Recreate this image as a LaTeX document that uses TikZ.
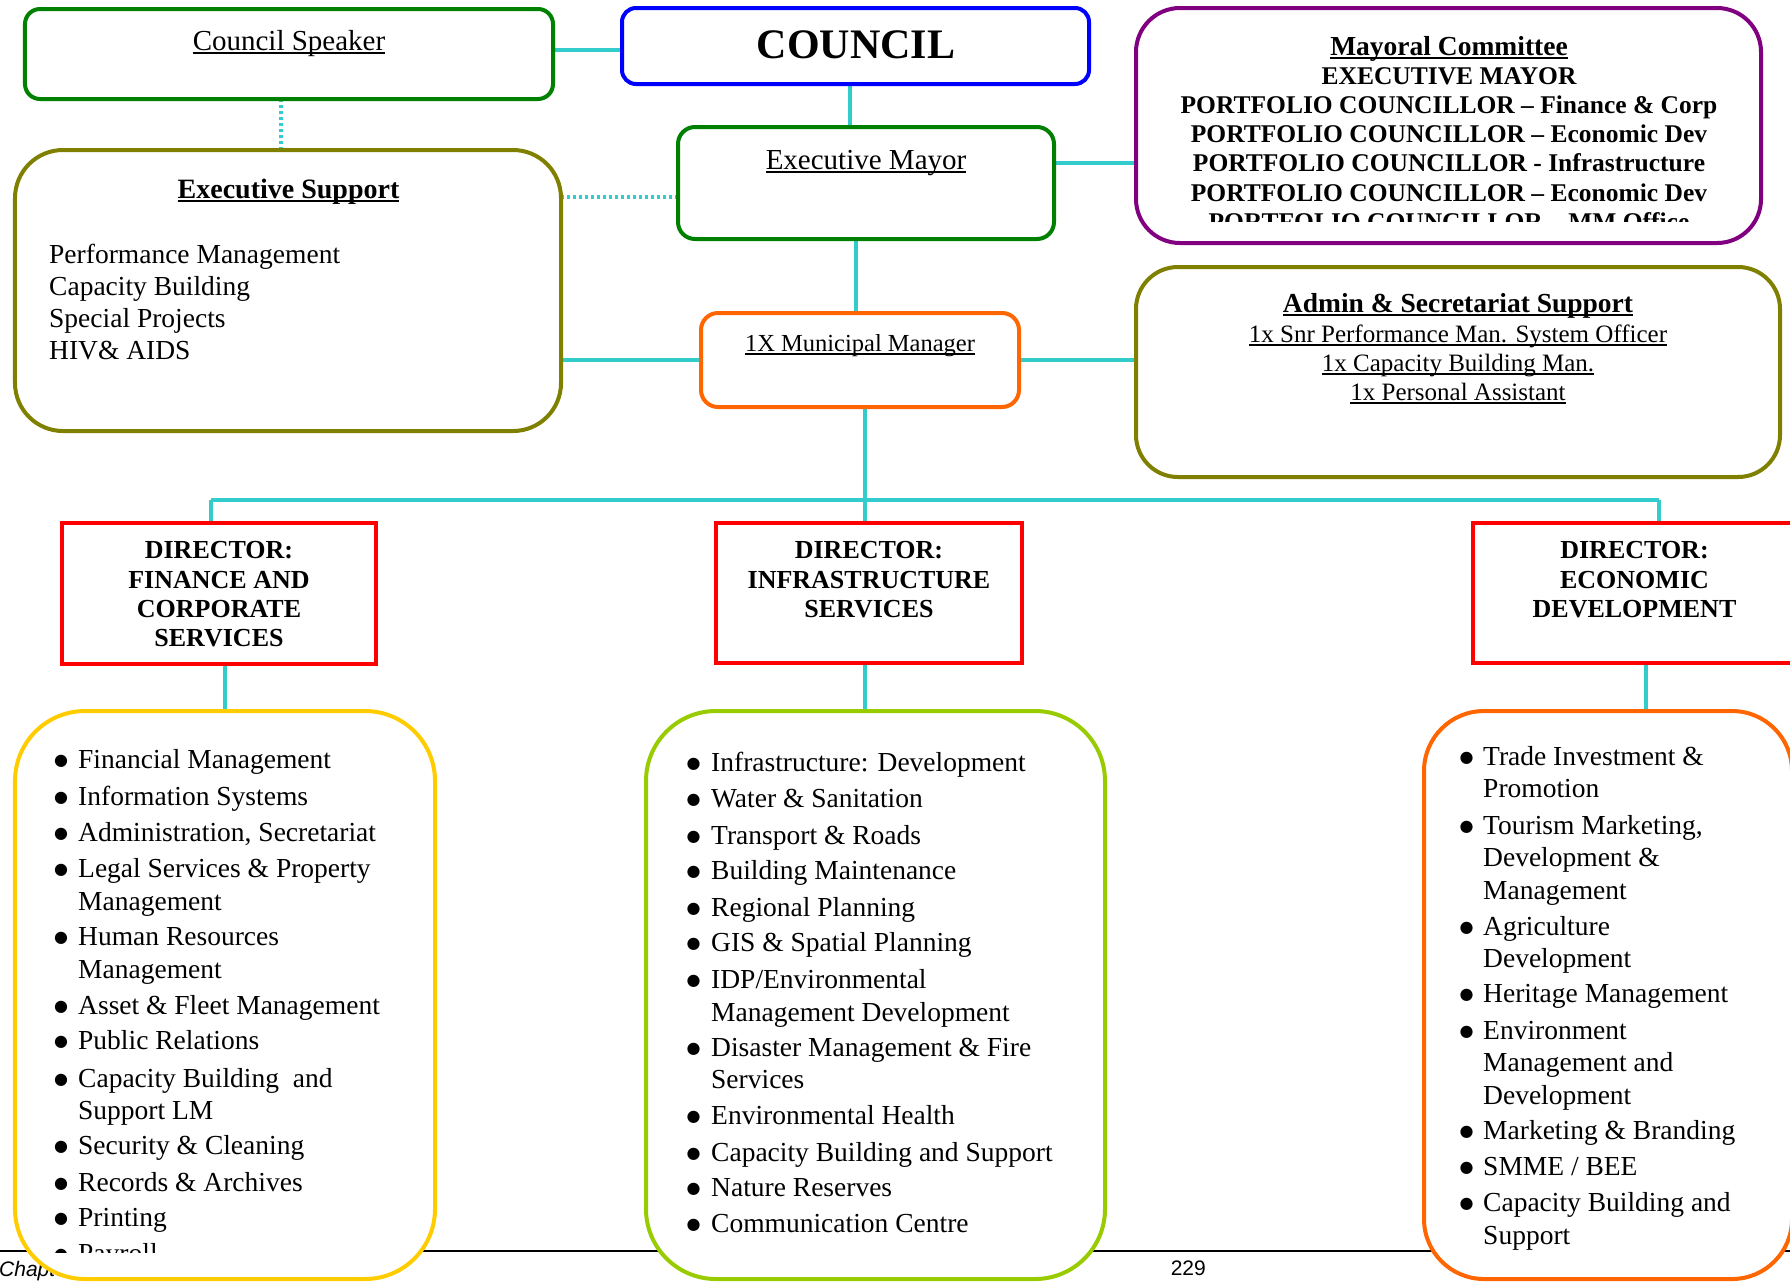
\documentclass[tikz,border=0pt]{standalone}
\usepackage{fontspec}
\setmainfont{Liberation Serif}
\newfontfamily\footfont{Liberation Sans}
\newfontfamily\bulfont{DejaVu Sans}
\newsavebox{\myulbox}
\newcommand{\myul}[1]{\sbox{\myulbox}{#1}\rlap{\rule[-3.5bp]{\wd\myulbox}{1.6bp}}\usebox{\myulbox}}
\definecolor{cyanl}{RGB}{51,204,204}
\definecolor{grn}{RGB}{0,128,0}
\definecolor{blu}{RGB}{0,0,255}
\definecolor{olv}{RGB}{128,128,0}
\definecolor{pur}{RGB}{128,0,128}
\definecolor{orng}{RGB}{255,102,0}
\definecolor{rd}{RGB}{255,0,0}
\definecolor{ylw}{RGB}{255,204,0}
\definecolor{lim}{RGB}{153,204,0}
\newcommand{\setfs}[1]{\fontsize{#1bp}{#1bp}\selectfont}
\pgfdeclarelayer{bg}
\pgfsetlayers{bg,main}
\tikzset{
  bx/.style={draw, line width=4bp, fill=white, inner sep=0pt, outer sep=0pt},
  conn/.style={draw=cyanl, line width=4bp},
  dotconn/.style={draw=cyanl, line width=3.5bp, dash pattern=on 3bp off 3bp},
  ft/.style={font=\setfs{#1}, inner sep=0pt, text height={0.7*#1bp}, text depth={0.25*#1bp}},
  ftb/.style={ft=#1, font=\setfs{#1}\bfseries},
  bul/.style={font=\bulfont\setfs{16}, inner sep=0pt},
  foot/.style={font=\footfont\setfs{21}, inner sep=0pt},
}
\newcommand{\bulletlist}[4]{%
  \foreach \y/\b/\t [count=\i] in {#4} {
    \node[ft=27.5, anchor=west] (#1t\i) at (#3,\y) {\t};
    \ifnum\b=1 \node[bul] (#1b\i) at (#2,\y-1) {●};\fi
  }}
\begin{document}
\begin{tikzpicture}[x=1bp,y=-1bp]
\clip (0,0) rectangle (1790,1281);

% ---------- boxes ----------
\node[bx, draw=grn, rounded corners=15bp, minimum width=528bp, minimum height=90bp] (speaker) at (289,54) {};
\node[bx, draw=blu, rounded corners=14bp, minimum width=467bp, minimum height=76bp] (council) at (855.5,46) {};
\node[bx, draw=olv, rounded corners=48bp, minimum width=546bp, minimum height=281bp] (exsup) at (288,290.5) {};
\node[bx, draw=grn, rounded corners=17bp, minimum width=376bp, minimum height=112bp] (mayor) at (866,183) {};
\node[bx, draw=pur, rounded corners=44bp, minimum width=625bp, minimum height=235bp] (mayoral) at (1448.5,125.5) {};
\node[bx, draw=orng, rounded corners=17bp, minimum width=318bp, minimum height=94bp] (mm) at (860,360) {};
\node[bx, draw=olv, rounded corners=42bp, minimum width=644bp, minimum height=210bp] (admin) at (1458,372) {};
\node[bx, draw=rd, minimum width=314bp, minimum height=141bp] (dfin) at (219,593.5) {};
\node[bx, draw=rd, minimum width=306bp, minimum height=140bp] (dinf) at (869,593) {};
\node[bx, draw=rd, minimum width=322bp, minimum height=140bp] (deco) at (1634,593) {};
\node[bx, draw=ylw, rounded corners=70bp, minimum width=420bp, minimum height=568bp] (lfin) at (225,995) {};
\node[bx, draw=lim, rounded corners=70bp, minimum width=459bp, minimum height=568bp] (linf) at (875.5,995) {};
\node[bx, draw=orng, rounded corners=60bp, minimum width=368bp, minimum height=568bp] (leco) at (1608,995) {};

% ---------- footer and connectors (behind) ----------
\begin{pgfonlayer}{bg}
  \coordinate (fL) at (0,1251);
  \coordinate (fR) at (1790,1251);
  \draw[line width=2bp] (fL) -- (fR);
  \node[foot, anchor=base west] (chap) at (-1,1276) {\itshape Chapter};
  \node[foot, anchor=base east] (pg) at (1206,1275) {229};

  \draw[conn] ([yshift=4bp]speaker.east) -- ([yshift=4bp]speaker.east -| council.west);
  \draw[conn] ([xshift=-5.5bp]council.south) -- ([xshift=-5.5bp]council.south |- mayor.north);
  \coordinate (mE) at (1054,163);
  \draw[conn] (mE) -- (mE -| mayoral.west);
  \draw[conn] ([xshift=-4bp]mm.north) -- ([xshift=-4bp]mm.north |- mayor.south);
  \draw[dotconn] ([xshift=-8bp]speaker.south) -- ([xshift=-8bp]speaker.south |- exsup.north);
  \coordinate (dA) at (678,197);
  \draw[dotconn] (dA -| exsup.east) -- (dA);
  \draw[conn] (mm.west) -- (mm.west -| exsup.east);
  \draw[conn] (mm.east) -- (mm.east -| admin.west);
  \coordinate (busL) at (211,500);
  \coordinate (busM) at (865,500);
  \coordinate (busR) at (1659,500);
  \draw[conn] (busM |- mm.south) -- (busM) -- (busM |- dinf.north);
  \draw[conn] (busL) -- (busR);
  \draw[conn] (busL) -- (busL |- dfin.north);
  \draw[conn] (busR) -- (busR |- deco.north);
  \draw[conn] (lfin.north |- dfin.south) -- (lfin.north);
  \draw[conn] ([xshift=-4bp]dinf.south) -- ([xshift=-4bp]dinf.south |- linf.north);
  \draw[conn] ([xshift=12bp]deco.south) -- ([xshift=12bp]deco.south |- leco.north);
\end{pgfonlayer}

% ---------- texts ----------
\node[ft=29] (spt) at (289,43.5) {\myul{Council Speaker}};
\node[ftb=42] (cot) at (856,49.5) {COUNCIL};
\node[ft=29] (myt) at (866,163) {\myul{Executive Mayor}};
\node[ft=24.5] (mmt) at (860,345.5) {\myul{1X Municipal Manager}};

\node[ftb=28] (est) at (288.5,192) {\myul{Executive Support}};
\foreach \y/\t [count=\i] in {257/Performance Management, 289/Capacity Building, 321/Special Projects, 353/HIV\& AIDS}
  {\node[ft=27.5, anchor=west] (es\i) at (49,\y) {\t};}

\begin{scope}
  \clip (1136,0) rectangle (1761,221);
  \node[ftb=27.5] (mct) at (1449,49) {\myul{Mayoral Committee}};
  \foreach \y/\t [count=\i] in {
    79/EXECUTIVE MAYOR,
    107.5/PORTFOLIO COUNCILLOR – Finance \& Corp,
    137/PORTFOLIO COUNCILLOR – Economic Dev,
    166/PORTFOLIO COUNCILLOR - Infrastructure,
    196/PORTFOLIO COUNCILLOR – Economic Dev,
    225/PORTFOLIO COUNCILLOR – MM Office}
    {\node[ftb=25.5] (mc\i) at (1449,\y) {\t};}
\end{scope}

\node[ftb=27.5] (adt) at (1458,306) {\myul{Admin \& Secretariat Support}};
\node[ft=25] (ad1) at (1458,336.5) {\myul{1x Snr Performance Man. System Officer}};
\node[ft=25] (ad2) at (1458,365.5) {\myul{1x Capacity Building Man.}};
\node[ft=25] (ad3) at (1458,394.5) {\myul{1x Personal Assistant}};

\foreach \y/\t [count=\i] in {553/DIRECTOR:, 583/FINANCE AND, 612/CORPORATE, 641/SERVICES}
  {\node[ftb=26] (df\i) at (219,\y) {\t};}
\foreach \y/\t [count=\i] in {553/DIRECTOR:, 583/INFRASTRUCTURE, 612/SERVICES}
  {\node[ftb=26] (di\i) at (869,\y) {\t};}
\foreach \y/\t [count=\i] in {553/DIRECTOR:, 583/ECONOMIC, 612/DEVELOPMENT}
  {\node[ftb=26] (de\i) at (1634.5,\y) {\t};}

\begin{scope}
  \clip (0,0) rectangle (1790,1252);
  \bulletlist{fin}{61}{78}{
    762/1/Financial Management,
    799/1/Information Systems,
    835/1/{Administration, Secretariat},
    871/1/Legal Services \& Property,
    904/0/Management,
    939/1/Human Resources,
    972/0/Management,
    1008/1/Asset \& Fleet Management,
    1043/1/Public Relations,
    1081/1/Capacity Building\ \ and,
    1113/0/Support LM,
    1148/1/Security \& Cleaning,
    1185/1/Records \& Archives,
    1220.5/1/Printing,
    1256/1/Payroll}
\end{scope}

\bulletlist{inf}{693.5}{711}{
  765/1/{Infrastructure: Development},
  801/1/Water \& Sanitation,
  838/1/Transport \& Roads,
  873/1/Building Maintenance,
  910/1/Regional Planning,
  945/1/GIS \& Spatial Planning,
  982/1/{IDP/Environmental},
  1015/0/Management Development,
  1050/1/Disaster Management \& Fire,
  1082/0/Services,
  1118/1/Environmental Health,
  1155/1/Capacity Building and Support,
  1190/1/Nature Reserves,
  1226/1/Communication Centre}

\bulletlist{eco}{1466.5}{1483}{
  759/1/Trade Investment \&,
  791/0/Promotion,
  828/1/{Tourism Marketing,},
  860/0/Development \&,
  893/0/Management,
  929/1/Agriculture,
  961/0/Development,
  996/1/Heritage Management,
  1033/1/Environment,
  1065/0/Management and,
  1098/0/Development,
  1133/1/Marketing \& Branding,
  1169/1/{SMME / BEE},
  1205/1/Capacity Building and,
  1238/0/Support}
\end{tikzpicture}
\end{document}
